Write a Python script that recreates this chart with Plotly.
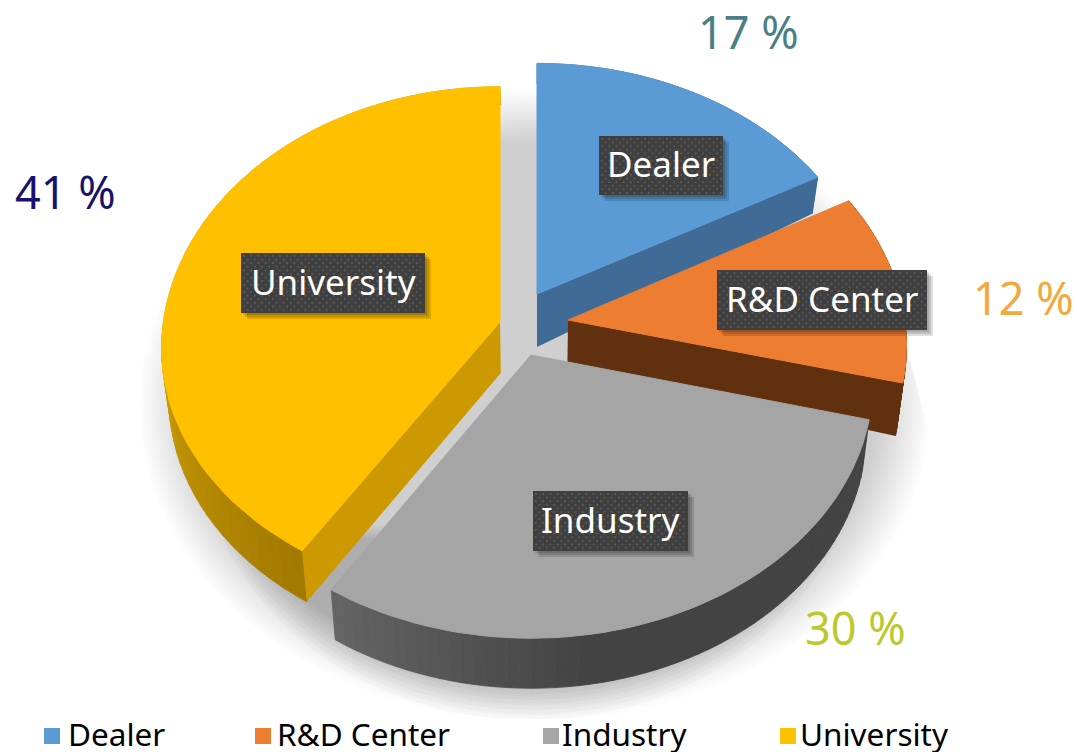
import numpy as np
import plotly.graph_objects as go

# ---- data ----
categories = ["Dealer", "R&D Center", "Industry", "University"]
values = [17, 12, 30, 41]
pct_labels = ["17 %", "12 %", "30 %", "41 %"]

# ---- style ----
top_colors = ["#5B9BD5", "#ED7D31", "#A5A5A5", "#FFC000"]
face_colors = ["#3F6B96", "#61300F", None, "#CC9A00"]
pct_colors = ["#4A7F86", "#F2A93B", "#BCC92E", "#17136B"]
apex_x = [537, 568, 531, 500]
apex_y = [294, 320, 355, 322]
rx_scale = [0.99, 0.99, 1.0, 0.99]
back_scale = [0.98, 1.0, 1.0, 1.0]
front_scale = [1.0, 0.95, 0.975, 0.95]
depth_base = [53, 44, 50, 51]
depth_cap = [53, 53, 50, 51]
face_side = ["end", "end", None, "start"]
draw_order = [0, 1, 3, 2]
wall_ramp = {2: ("#666666", "#434343"), 3: ("#A27A00", "#D8A600")}
pct_pos = [(748, 31), (1023, 297), (855, 627), (65, 191)]
box_rects = [(599, 136, 723, 195), (717, 270, 927, 330), (533, 491, 688, 551), (241, 253, 425, 313)]
legend_marker_x = [52, 263, 551, 788]
legend_text_x = [68, 277, 562, 800]

RX, RY, K = 340.0, 260.0, 0.105
VCX, BOTTOM_SCALE = 540.0, 0.98

def project(i, deg):
    t = np.radians(deg)
    u, v = np.sin(t), np.cos(t)
    den = 1 + K * v
    sy = np.where(v >= 0, back_scale[i], front_scale[i])
    return apex_x[i] + RX * rx_scale[i] * u / den, apex_y[i] - RY * sy * v / den

def lower(i, x, y):
    d = np.minimum(depth_cap[i], depth_base[i] + 0.14 * (np.asarray(y) - apex_y[i]))
    return VCX + (np.asarray(x) - VCX) * BOTTOM_SCALE, np.asarray(y) + d

def hexrgb(c):
    return np.array([int(c[j:j + 2], 16) for j in (1, 3, 5)], float)

def mix(a, b, t):
    r = hexrgb(a) * (1 - t) + hexrgb(b) * t
    return "rgb(%d,%d,%d)" % tuple(r)

def poly(fig, x, y, color, stroke=0):
    x, y = list(x), list(y)
    fig.add_trace(go.Scatter(x=x + x[:1], y=y + y[:1], mode="lines", fill="toself",
                             fillcolor=color, line=dict(width=stroke, color=color), hoverinfo="skip",
                             showlegend=False))

fig = go.Figure()

# soft ground shadow
LAYERS = 16
a = np.radians(np.linspace(0, 360, 181))
for n in range(LAYERS):
    f = n / (LAYERS - 1)
    rx, ry = 395 - 50 * f, 315 - 50 * f
    sx = 535 + rx * np.cos(a)
    sy = 405 + ry * np.sin(a)
    sx = np.minimum(sx, np.where(sy < 340, 905, 905 + (sy - 340) * 0.26))
    sy = np.minimum(sy, 719)
    poly(fig, sx, sy, "rgba(0,0,0,0.013)")
# denser shadow hugging the lower rim (an open arc whose ends stay hidden under the pie)
arc = np.radians(np.linspace(22, 158, 80))
for n in range(8):
    f = n / 7
    rx, ry = 332 - 32 * f, 290 - 35 * f
    sx = 530 + rx * np.cos(arc)
    sy = 430 + ry * np.sin(arc)
    poly(fig, sx, np.minimum(sy, 719), "rgba(0,0,0,0.018)")

# slices
edges = np.cumsum([0] + values) * 3.6
for i in draw_order:
    a0, a1 = edges[i], edges[i + 1]
    th = np.linspace(a0, a1, 61)
    x, y = project(i, th)
    bx, by = lower(i, x, y)
    # outer wall
    c0, c1 = wall_ramp.get(i, (face_colors[i] or "#444444", face_colors[i] or "#444444"))
    for j in range(len(th) - 1):
        if i == 2:
            t = np.clip((a1 - th[j]) / 42.0, 0, 1)
        elif i == 3:
            t = np.clip((th[j] - a0) / 65.0, 0, 1)
        else:
            t = 0
        e = min(j + 2, len(th))
        poly(fig, np.r_[x[j:e], bx[j:e][::-1]], np.r_[y[j:e], by[j:e][::-1]], mix(c0, c1, t), stroke=0.8)
    # radial cut face
    if face_side[i]:
        ex, ey = (x[-1], y[-1]) if face_side[i] == "end" else (x[0], y[0])
        ax, ay = float(apex_x[i]), float(apex_y[i])
        b1x, b1y = lower(i, ax, ay)
        b2x, b2y = lower(i, ex, ey)
        poly(fig, [ax, ex, float(b2x), float(b1x)], [ay, ey, float(b2y), float(b1y)], face_colors[i])
    # top surface
    poly(fig, np.r_[apex_x[i], x], np.r_[apex_y[i], y], top_colors[i], stroke=1)

# label boxes: shadow, plate, dotted texture
for (x0, y0, x1, y1) in box_rects:
    for s in (2, 4, 6):
        poly(fig, [x0 + s, x1 + s, x1 + s, x0 + s], [y0 + s, y0 + s, y1 + s, y1 + s], "rgba(0,0,0,0.13)")
    poly(fig, [x0, x1, x1, x0], [y0, y0, y1, y1], "#3F3F3F")
    dx, dy = [], []
    for r, yy in enumerate(np.arange(y0 + 3, y1 - 1, 3.6)):
        for xx in np.arange(x0 + 3 + (r % 2) * 3.6, x1 - 1, 7.2):
            dx.append(xx)
            dy.append(yy)
    fig.add_trace(go.Scatter(x=dx, y=dy, mode="markers", hoverinfo="skip", showlegend=False,
                             marker=dict(symbol="square", size=1.8, color="#5C5C5C", line=dict(width=0))))

# legend swatches
fig.add_trace(go.Scatter(x=legend_marker_x, y=[736] * 4, mode="markers", hoverinfo="skip", showlegend=False,
                         marker=dict(symbol="square", size=16, color=top_colors, line=dict(width=0))))

ann = []
for i, name in enumerate(categories):
    x0, y0, x1, y1 = box_rects[i]
    ann.append(dict(x=(x0 + x1) / 2, y=(y0 + y1) / 2 - 2, text=name, showarrow=False,
                    xanchor="center", yanchor="middle",
                    font=dict(family="Noto Sans", size=35, color="#FFFFFF")))
    ann.append(dict(x=pct_pos[i][0], y=pct_pos[i][1], text=pct_labels[i], showarrow=False,
                    xanchor="center", yanchor="middle",
                    font=dict(family="Noto Sans", size=45, color=pct_colors[i])))
    ann.append(dict(x=legend_text_x[i], y=733, text=name, showarrow=False,
                    xanchor="left", yanchor="middle", xshift=-2,
                    font=dict(family="Noto Sans", size=31.5, color="#000000")))

fig.update_layout(width=1077, height=752, margin=dict(l=0, r=0, t=0, b=0),
                  paper_bgcolor="#FFFFFF", plot_bgcolor="#FFFFFF", showlegend=False,
                  annotations=ann,
                  xaxis=dict(range=[0, 1077], visible=False, fixedrange=True),
                  yaxis=dict(range=[752, 0], visible=False, fixedrange=True))
fig.write_html("out.html", config=dict(displayModeBar=False),
               post_script="document.body.style.margin='0';document.body.style.overflow='hidden';")
